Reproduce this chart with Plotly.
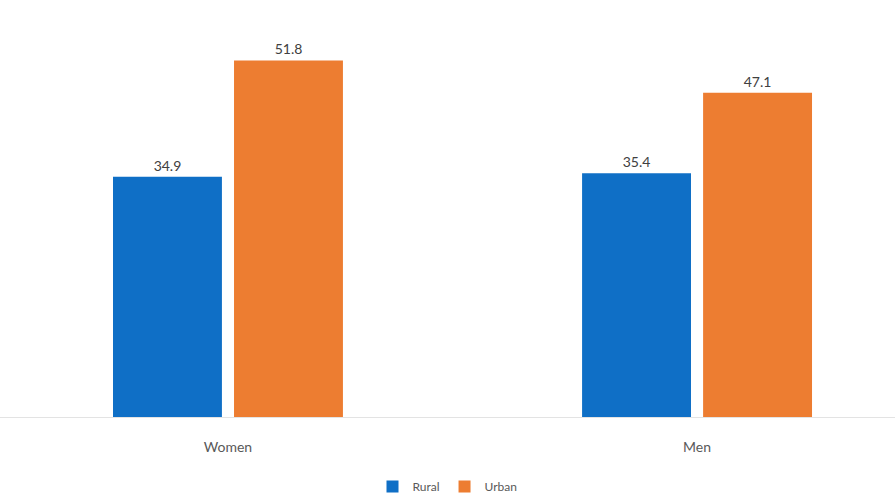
import plotly.graph_objects as go

# Share of population by sex and area of residence
categories = ["Women", "Men"]
rural = [34.9, 35.4]
urban = [51.8, 47.1]

series_names = ["Rural", "Urban"]
series_colors = ["#0F6FC6", "#ED7D31"]

fig = go.Figure()
for name, vals, color in zip(series_names, [rural, urban], series_colors):
    fig.add_trace(go.Bar(
        name=name,
        x=categories,
        y=vals,
        marker=dict(color=color, line=dict(width=0)),
        text=[f"{v:.1f}" for v in vals],
        textposition="outside",
        textfont=dict(size=14, color="#404040"),
        cliponaxis=False,
    ))

fig.update_layout(
    width=895,
    height=501,
    margin=dict(l=0, r=0, t=4, b=80),
    paper_bgcolor="white",
    plot_bgcolor="white",
    font=dict(family="Lato, Open Sans, sans-serif", color="#595959"),
    barmode="group",
    bargap=0.484,
    bargroupgap=0.1,
    showlegend=True,
    legend=dict(
        orientation="h",
        x=0.5, xanchor="center",
        y=-0.168, yanchor="middle",
        font=dict(size=12, color="#595959"),
        itemwidth=30,
        traceorder="normal",
    ),
    xaxis=dict(
        range=[-0.486, 1.422],
        showline=True,
        linecolor="#E3E3E3",
        linewidth=1,
        ticks="",
        ticklabelstandoff=17,
        tickfont=dict(size=14, color="#595959"),
        showgrid=False,
    ),
    yaxis=dict(
        range=[0, 60],
        visible=False,
        showgrid=False,
        zeroline=False,
    ),
)

fig.write_html("out.html")
